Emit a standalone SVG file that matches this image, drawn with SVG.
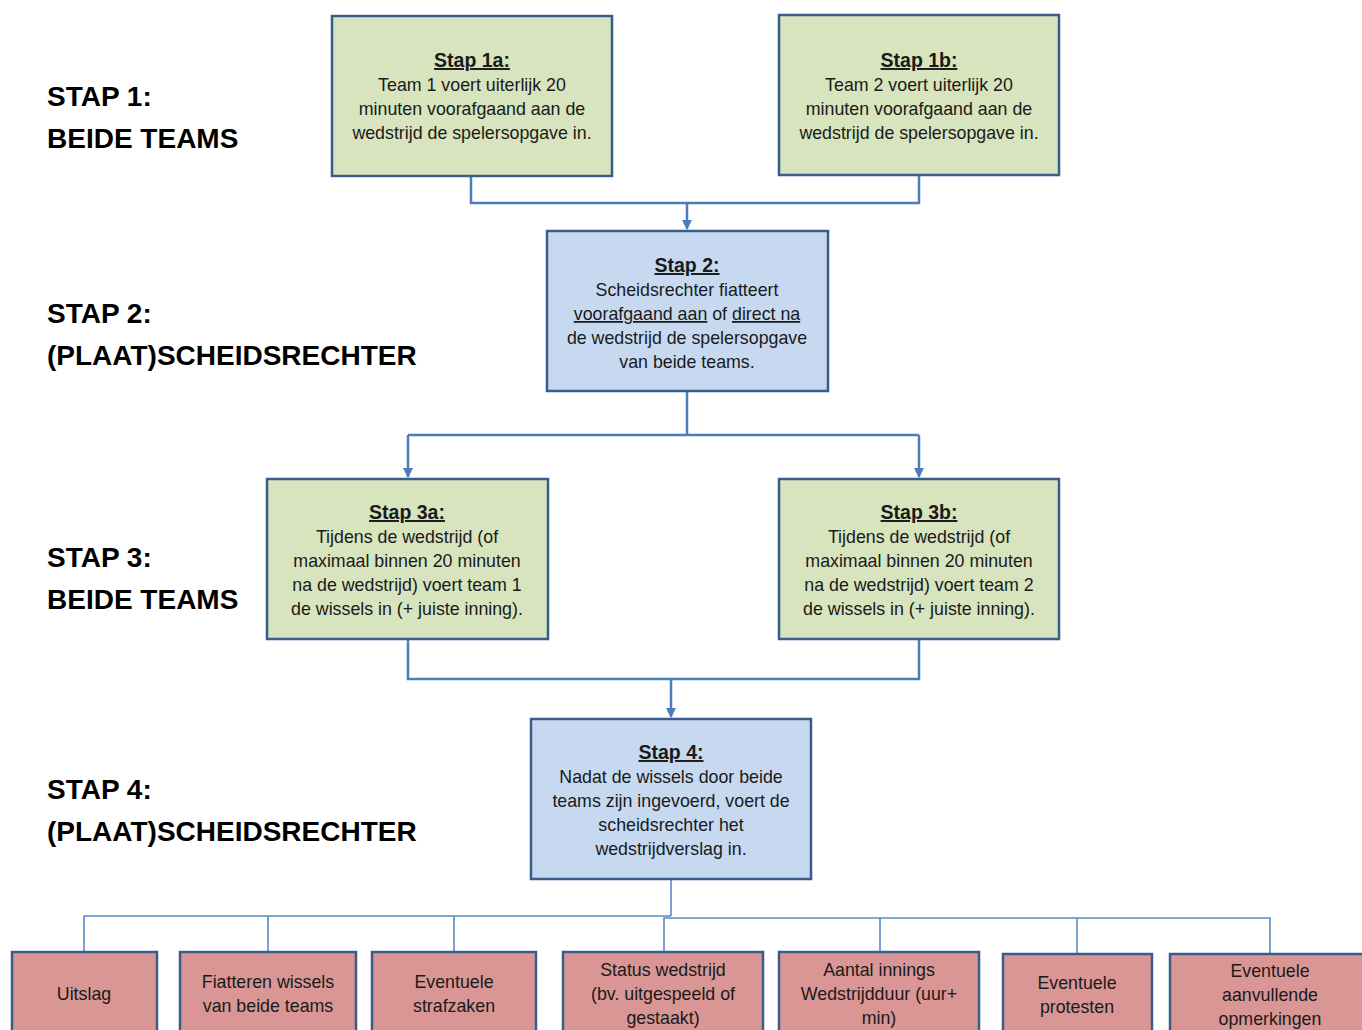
<svg xmlns="http://www.w3.org/2000/svg" width="1362" height="1030" viewBox="0 0 1362 1030">
<defs>
<style>
.box{stroke:#385d8a;stroke-width:2.5}
.g{fill:#d7e4bd}
.b{fill:#c6d9f1}
.r{fill:#d99694}
.t{font-family:"Liberation Sans",Arial,sans-serif;font-size:17.8px;fill:#1a1a1a;text-anchor:middle}
.h{font-weight:bold;text-decoration:underline;font-size:19.5px}
.u{text-decoration:underline}
.lab{font-family:"Liberation Sans",Arial,sans-serif;font-size:28px;font-weight:bold;fill:#000}
.c{fill:none;stroke:#4a7ebb;stroke-width:2.5}
.c2{fill:none;stroke:#5b8bc6;stroke-width:1.6}
</style>
<marker id="ah" viewBox="0 0 10 10" refX="9" refY="5" markerWidth="4" markerHeight="4" orient="auto">
<path d="M0,0L10,5L0,10z" fill="#4a7ebb"/>
</marker>
</defs>
<rect width="1362" height="1030" fill="#fff"/>

<g id="labels">
<text class="lab" x="47" y="106">STAP 1:</text>
<text class="lab" x="47" y="148">BEIDE TEAMS</text>
<text class="lab" x="47" y="323">STAP 2:</text>
<text class="lab" x="47" y="365">(PLAAT)SCHEIDSRECHTER</text>
<text class="lab" x="47" y="567">STAP 3:</text>
<text class="lab" x="47" y="609">BEIDE TEAMS</text>
<text class="lab" x="47" y="799">STAP 4:</text>
<text class="lab" x="47" y="841">(PLAAT)SCHEIDSRECHTER</text>
</g>

<g id="connectors">
<path class="c" d="M471,176V203H919V175"/>
<path class="c" d="M687,203V229" marker-end="url(#ah)"/>
<path class="c" d="M687,391V435"/>
<path class="c" d="M408,435H919"/>
<path class="c" d="M408,435V477" marker-end="url(#ah)"/>
<path class="c" d="M919,435V477" marker-end="url(#ah)"/>
<path class="c" d="M408,639V679H919V639"/>
<path class="c" d="M671,679V717" marker-end="url(#ah)"/>
<path class="c2" d="M671,879V916"/>
<path class="c2" d="M84,952V916H671"/>
<path class="c2" d="M268,952V916"/>
<path class="c2" d="M454,952V916"/>
<path class="c2" d="M664,952V918H1270V954"/>
<path class="c2" d="M880,952V918"/>
<path class="c2" d="M1077,954V918"/>
</g>

<g id="stap1a">
<rect class="box g" x="332" y="16" width="280" height="160"/>
<text class="t" x="472" y="67"><tspan class="h">Stap 1a:</tspan><tspan x="472" dy="24">Team 1 voert uiterlijk 20</tspan><tspan x="472" dy="24">minuten voorafgaand aan de</tspan><tspan x="472" dy="24">wedstrijd de spelersopgave in.</tspan></text>
</g>

<g id="stap1b">
<rect class="box g" x="779" y="15" width="280" height="160"/>
<text class="t" x="919" y="67"><tspan class="h">Stap 1b:</tspan><tspan x="919" dy="24">Team 2 voert uiterlijk 20</tspan><tspan x="919" dy="24">minuten voorafgaand aan de</tspan><tspan x="919" dy="24">wedstrijd de spelersopgave in.</tspan></text>
</g>

<g id="stap2">
<rect class="box b" x="547" y="231" width="281" height="160"/>
<text class="t" x="687" y="272"><tspan class="h">Stap 2:</tspan><tspan x="687" dy="24">Scheidsrechter fiatteert</tspan><tspan x="687" dy="24"><tspan class="u">voorafgaand aan</tspan> of <tspan class="u">direct na</tspan></tspan><tspan x="687" dy="24">de wedstrijd de spelersopgave</tspan><tspan x="687" dy="24">van beide teams.</tspan></text>
</g>

<g id="stap3a">
<rect class="box g" x="267" y="479" width="281" height="160"/>
<text class="t" x="407" y="519"><tspan class="h">Stap 3a:</tspan><tspan x="407" dy="24">Tijdens de wedstrijd (of</tspan><tspan x="407" dy="24">maximaal binnen 20 minuten</tspan><tspan x="407" dy="24">na de wedstrijd) voert team 1</tspan><tspan x="407" dy="24">de wissels in (+ juiste inning).</tspan></text>
</g>

<g id="stap3b">
<rect class="box g" x="779" y="479" width="280" height="160"/>
<text class="t" x="919" y="519"><tspan class="h">Stap 3b:</tspan><tspan x="919" dy="24">Tijdens de wedstrijd (of</tspan><tspan x="919" dy="24">maximaal binnen 20 minuten</tspan><tspan x="919" dy="24">na de wedstrijd) voert team 2</tspan><tspan x="919" dy="24">de wissels in (+ juiste inning).</tspan></text>
</g>

<g id="stap4">
<rect class="box b" x="531" y="719" width="280" height="160"/>
<text class="t" x="671" y="759"><tspan class="h">Stap 4:</tspan><tspan x="671" dy="24">Nadat de wissels door beide</tspan><tspan x="671" dy="24">teams zijn ingevoerd, voert de</tspan><tspan x="671" dy="24">scheidsrechter het</tspan><tspan x="671" dy="24">wedstrijdverslag in.</tspan></text>
</g>

<g id="uitslag">
<rect class="box r" x="12" y="952" width="145" height="90"/>
<text class="t" x="84" y="1000">Uitslag</text>
</g>
<g id="fiatteren">
<rect class="box r" x="180" y="952" width="176" height="90"/>
<text class="t" x="268" y="988"><tspan>Fiatteren wissels</tspan><tspan x="268" dy="24">van beide teams</tspan></text>
</g>
<g id="strafzaken">
<rect class="box r" x="372" y="952" width="164" height="90"/>
<text class="t" x="454" y="988"><tspan>Eventuele</tspan><tspan x="454" dy="24">strafzaken</tspan></text>
</g>
<g id="status">
<rect class="box r" x="563" y="952" width="200" height="90"/>
<text class="t" x="663" y="976"><tspan>Status wedstrijd</tspan><tspan x="663" dy="24">(bv. uitgespeeld of</tspan><tspan x="663" dy="24">gestaakt)</tspan></text>
</g>
<g id="innings">
<rect class="box r" x="779" y="952" width="200" height="90"/>
<text class="t" x="879" y="976"><tspan>Aantal innings</tspan><tspan x="879" dy="24">Wedstrijdduur (uur+</tspan><tspan x="879" dy="24">min)</tspan></text>
</g>
<g id="protesten">
<rect class="box r" x="1003" y="954" width="149" height="90"/>
<text class="t" x="1077" y="989"><tspan>Eventuele</tspan><tspan x="1077" dy="24">protesten</tspan></text>
</g>
<g id="opmerkingen">
<rect class="box r" x="1170" y="954" width="200" height="90"/>
<text class="t" x="1270" y="977"><tspan>Eventuele</tspan><tspan x="1270" dy="24">aanvullende</tspan><tspan x="1270" dy="24">opmerkingen</tspan></text>
</g>
</svg>
